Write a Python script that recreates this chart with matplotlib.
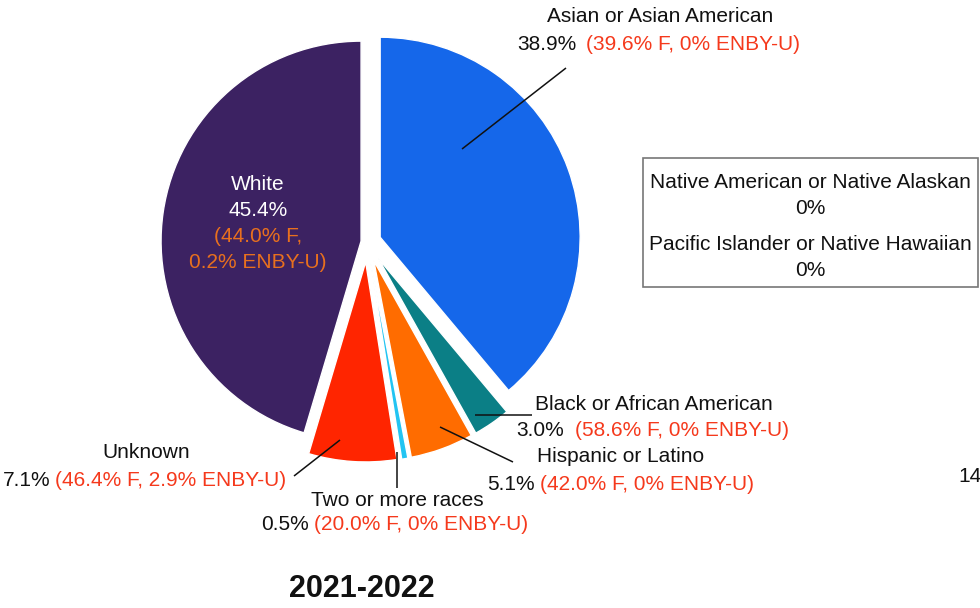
import matplotlib
matplotlib.use('Agg')
import matplotlib.pyplot as plt

plt.rcParams['font.family'] = ['Liberation Sans', 'DejaVu Sans']

# race / ethnicity shares, clockwise from 12 o'clock
groups = ['Asian or Asian American', 'Black or African American', 'Hispanic or Latino',
          'Two or more races', 'Unknown', 'White']
shares = [38.9, 3.0, 5.1, 0.5, 7.1, 45.4]
female = ['39.6%', '58.6%', '42.0%', '20.0%', '46.4%', '44.0%']
enby = ['0%', '0%', '0%', '0%', '2.9%', '0.2%']
colors = ['#1567EA', '#0B7F86', '#FF6C00', '#22C4F2', '#FF2500', '#3C2262']
# offsets in pixels (pie is drawn in pixel data units)
explode = [14, 20, 20, 20, 20, 6]

zero_groups = ['Native American or Native Alaskan', 'Pacific Islander or Native Hawaiian']
zero_shares = [0, 0]
year = '2021-2022'

W, H = 980, 608
RED = '#F5391C'
ORANGE = '#E8701E'
FS = 15

fig = plt.figure(figsize=(9.8, 6.08), dpi=100)
ax = fig.add_axes([0, 0, 1, 1])

ax.pie(shares, colors=colors, explode=explode, startangle=90, counterclock=False,
       center=(367, H - 242), radius=200,
       wedgeprops=dict(edgecolor='white', linewidth=1))
ax.set_xlim(0, W)
ax.set_ylim(0, H)
ax.axis('off')


def Y(y):
    return H - y


def label(i, name_xy, split_x, val_y, gap=10):
    nx, ny = name_xy
    ax.text(nx, Y(ny), groups[i], ha='center', va='center', fontsize=FS, color='#111111')
    ax.text(split_x, Y(val_y), '%.1f%%' % shares[i], ha='right', va='center',
            fontsize=FS, color='#111111')
    ax.text(split_x + gap, Y(val_y), '(%s F, %s ENBY-U)' % (female[i], enby[i]),
            ha='left', va='center', fontsize=FS, color=RED)


def leader(x0, y0, x1, y1):
    ax.plot([x0, x1], [Y(y0), Y(y1)], color='#111111', lw=1.1, solid_capstyle='butt')


# outside labels
label(0, (660, 17), 576, 45, gap=10)
leader(566, 68, 462, 149)

label(1, (654, 404), 564, 430, gap=11)
leader(475, 415, 532, 415)

label(2, (621, 457), 535, 484, gap=5)
leader(440, 427, 513, 462)

label(3, (397, 500), 309, 525, gap=5)
leader(397, 452, 397, 488)

label(4, (146, 453), 50, 480, gap=5)
leader(294, 476, 340, 440)

# label inside the White slice
ax.text(258, Y(185), groups[5], ha='center', va='center', fontsize=FS, color='white')
ax.text(258, Y(211), '%.1f%%' % shares[5], ha='center', va='center', fontsize=FS, color='white')
ax.text(258, Y(237), '(%s F,' % female[5], ha='center', va='center', fontsize=FS, color=ORANGE)
ax.text(258, Y(263), '%s ENBY-U)' % enby[5], ha='center', va='center', fontsize=FS, color=ORANGE)

# groups with no students
box = plt.Rectangle((643, Y(287)), 335, 129, fill=False, edgecolor='#777777', lw=1.2)
ax.add_patch(box)
for k, (g, s) in enumerate(zip(zero_groups, zero_shares)):
    ax.text(810, Y(183 + 62 * k), g, ha='center', va='center', fontsize=FS, color='#111111')
    ax.text(810, Y(208 + 62 * k), '%d%%' % s, ha='center', va='center', fontsize=FS, color='#111111')

ax.text(958, Y(476), '14', ha='left', va='center', fontsize=FS, color='#111111')

ax.text(362, Y(589), year, ha='center', va='center', fontsize=22, fontweight='bold', color='#111111')

fig.savefig('out.png', dpi=100)
